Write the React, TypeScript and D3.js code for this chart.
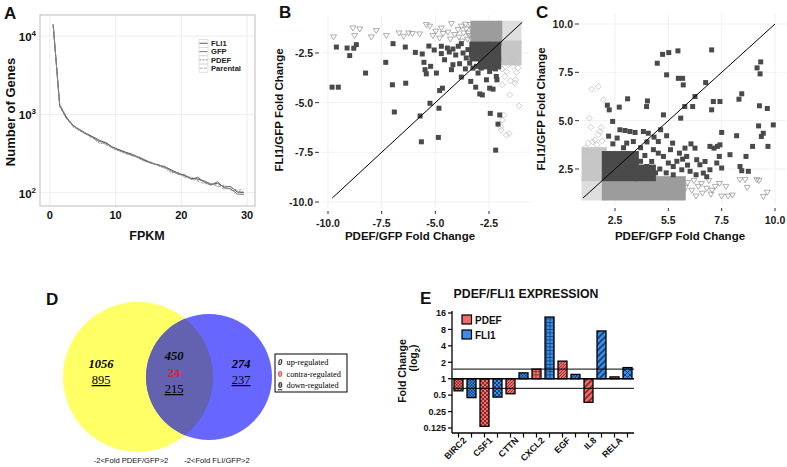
import React from "react";
import * as d3 from "d3";

const SANS = "'Liberation Sans', Arial, Helvetica, sans-serif";
const SERIF = "'Liberation Serif', 'Times New Roman', serif";

// ---------------- Panel A data ----------------
const fpkmBins = [0.5, 1.5, 2.5, 3.5, 4.5, 5.5, 6.5, 7.5, 8.5, 9.5, 10.5, 11.5, 12.5, 13.5, 14.5, 15.5, 16.5, 17.5, 18.5, 19.5, 20.5, 21.5, 22.5, 23.5, 24.5, 25.5, 26.5, 27.5, 28.5, 29.5];
const fli1Genes = [14000, 1300, 920, 730, 640, 575, 520, 470, 430, 385, 355, 330, 310, 285, 260, 240, 225, 215, 195, 178, 165, 152, 150, 140, 128, 132, 118, 120, 102, 100];
const gfpGenes = [14200, 1280, 900, 720, 630, 560, 510, 450, 440, 380, 350, 325, 300, 280, 255, 235, 228, 210, 190, 172, 170, 148, 158, 135, 125, 138, 115, 112, 96, 95];
const pdefGenes = [13900, 1350, 950, 700, 620, 560, 500, 430, 420, 370, 340, 320, 305, 275, 250, 245, 220, 205, 180, 182, 160, 158, 145, 142, 130, 120, 125, 108, 105, 102];
const parentalGenes = [14100, 1250, 880, 710, 650, 570, 490, 460, 410, 375, 345, 315, 295, 290, 265, 240, 222, 218, 185, 175, 158, 150, 140, 130, 132, 125, 110, 115, 108, 110];
const seriesNamesA = ["FLI1", "GFP", "PDEF", "Parental"];
const xTicksA = [0, 10, 20, 30];
const yTicksA = [100, 1000, 10000];
const yTickExpA = ["2", "3", "4"];

// ---------------- Panel B data ----------------
const xTicksB = [-10, -7.5, -5, -2.5];
const yTicksB = [-2.5, -5, -7.5, -10];
const bBoth = [
  [-9.81, -4.22], [-9.52, -4.22], [-9.61, -2.2], [-9.11, -2.25], [-8.8, -2.26], [-8.68, -2.08], [-8.99, -2.63], [-8.25, -3.51],
  [-7.31, -2.97], [-6.97, -2.03], [-7.0, -4.1], [-6.91, -5.47], [-6.4, -2.2], [-6.38, -4.02], [-5.93, -2.47], [-5.61, -2.55],
  [-5.53, -2.97], [-5.48, -3.34], [-5.22, -3.17], [-5.42, -3.55], [-4.95, -3.51], [-4.8, -4.39], [-4.67, -4.27], [-5.25, -5.03],
  [-5.71, -5.67], [-4.83, -5.28], [-5.65, -6.97], [-4.86, -6.75], [-4.72, -2.53], [-4.44, -2.25], [-4.18, -2.3], [-3.93, -2.16],
  [-3.79, -2.03], [-4.72, -2.16], [-4.57, -2.84], [-4.18, -3.09], [-3.79, -3.71], [-3.56, -2.75], [-3.35, -3.93], [-3.12, -4.22],
  [-2.93, -4.56], [-2.81, -4.61], [-2.47, -4.27], [-2.31, -4.32], [-2.62, -3.85], [-3.01, -3.51], [-2.47, -3.43], [-2.16, -3.68],
  [-2.13, -3.85], [-2.44, -5.54], [-2.0, -5.62], [-2.08, -6.08], [-2.19, -7.39], [-3.09, -3.17], [-3.25, -3.26], [-2.86, -3.26],
  [-3.4, -3.01], [-3.87, -3.04], [-4.25, -3.34], [-3.71, -2.5], [-3.48, -2.33], [-2.7, -2.67], [-2.47, -2.84], [-2.24, -3.01],
  [-3.09, -2.75], [-3.32, -2.58], [-2.08, -2.58], [-2.31, -3.26], [-4.05, -2.6], [-3.6, -3.3], [-2.6, -3.1], [-2.2, -3.3],
  [-4.35, -2.45], [-5.05, -2.35], [-5.3, -2.15]
];
const bPdefOnly = [
  [-9.74, -1.69], [-8.84, -1.24], [-8.52, -1.29], [-8.76, -1.62], [-7.98, -1.69], [-7.75, -1.37], [-7.28, -1.62], [-6.69, -1.49],
  [-6.48, -1.66], [-6.24, -1.49], [-6.07, -1.52], [-5.73, -1.54], [-5.42, -1.07], [-5.26, -1.15], [-5.11, -1.62], [-4.98, -1.4],
  [-4.72, -1.24], [-4.64, -1.52], [-4.41, -1.45], [-4.25, -1.02], [-4.1, -1.57], [-3.94, -1.32], [-3.79, -1.15], [-3.68, -1.49],
  [-3.56, -1.29], [-3.43, -1.62], [-3.37, -1.07], [-3.5, -1.8], [-3.3, -1.3], [-3.6, -1.05], [-3.45, -1.5], [-3.9, -1.7],
  [-4.3, -1.8], [-4.8, -1.75], [-3.75, -1.9]
];
const bFli1Only = [
  [-1.69, -3.43], [-1.38, -3.17], [-1.23, -3.48], [-1.77, -3.68], [-1.26, -3.85], [-1.88, -4.1], [-1.54, -4.61], [-1.1, -5.16],
  [-1.82, -5.62], [-1.88, -5.87], [-1.69, -6.63], [-1.57, -6.55], [-1.95, -6.21], [-1.93, -6.38], [-1.38, -2.84], [-1.61, -3.09],
  [-1.15, -3.25], [-1.5, -3.9], [-1.9, -3.3], [-1.3, -4.0]
];
// dense regions [x0, x1, y0, y1]
const bDenseNeither = [[-2.0, -1.1, -2.0, -1.0]];
const bDensePdef = [[-3.25, -2.0, -2.0, -1.0]];
const bDenseFli1 = [[-2.0, -1.1, -3.0, -2.0]];
const bDenseBoth = [[-3.3, -2.05, -2.8, -2.05], [-2.9, -2.05, -3.2, -2.8]];
const bDiagonal = [-9.8, -0.95];

// ---------------- Panel C data ----------------
const xTicksC = [2.5, 5, 7.5, 10];
const xTickLabelsC = ["2.5", "5.5", "7.5", "10.0"];
const yTicksC = [2.5, 5, 7.5, 10];
const cBoth = [
  [4.48, 7.97], [4.73, 8.43], [5.02, 8.52], [5.45, 8.61], [7.03, 8.66], [4.92, 7.37], [5.47, 7.19], [5.67, 7.19], [5.7, 6.85],
  [6.75, 6.97], [6.25, 6.25], [6.14, 5.73], [5.77, 5.73], [5.58, 5.13], [4.77, 5.3], [3.98, 5.73], [4.02, 6.02], [3.09, 6.13],
  [2.7, 5.7], [2.14, 5.8], [2.23, 5.56], [2.39, 4.96], [7.11, 5.99], [7.42, 5.99], [7.03, 5.56], [7.5, 4.39], [7.89, 3.24],
  [8.2, 4.22], [8.31, 6.11], [8.44, 6.39], [9.16, 7.73], [9.33, 8.04], [9.3, 7.42], [9.27, 5.77], [9.64, 5.63], [9.92, 4.78],
  [9.23, 4.73], [9.36, 4.18], [9.45, 4.35], [9.67, 3.67], [8.95, 3.67], [8.64, 3.15], [8.36, 2.63], [8.44, 2.41], [8.75, 2.38],
  [3.83, 4.44], [4.06, 4.35], [4.33, 4.15], [4.53, 3.92], [4.92, 4.22], [4.64, 4.53], [2.73, 4.53], [2.97, 4.49], [3.2, 4.44],
  [3.44, 4.39], [3.05, 3.84], [3.36, 3.92], [5.2, 3.84], [5.52, 3.32], [5.78, 3.58], [5.86, 3.15], [6.06, 3.8], [6.25, 3.58],
  [6.33, 2.98], [6.48, 2.72], [6.72, 2.89], [6.95, 3.67], [7.14, 3.58], [7.3, 3.67], [7.42, 3.75], [7.39, 3.15], [7.27, 2.81],
  [7.5, 2.55], [6.95, 2.46], [6.64, 2.29], [6.02, 2.38], [5.63, 2.46], [5.23, 2.63], [5.0, 2.81], [4.77, 3.15], [4.53, 3.32],
  [4.22, 2.89], [3.98, 2.63], [5.23, 2.2], [5.67, 3.01], [3.7, 3.6], [4.0, 3.9], [4.3, 3.5], [3.9, 3.2], [4.6, 2.5], [4.9, 2.3],
  [5.4, 2.9], [5.1, 3.5], [3.6, 2.2], [4.1, 2.1], [6.3, 2.2], [2.4, 3.8], [2.6, 4.1], [2.2, 4.2], [3.7, 2.9], [2.9, 3.6],
  [4.4, 2.3], [5.9, 2.7], [6.8, 2.1]
];
const cPdefOnly = [
  [5.5, 1.7], [5.7, 1.3], [5.9, 1.8], [6.1, 1.4], [6.3, 1.1], [6.4, 1.6], [6.6, 1.25], [6.8, 1.5], [6.9, 1.9], [7.0, 1.2],
  [7.2, 1.6], [7.4, 1.75], [7.5, 1.1], [7.7, 1.6], [7.8, 1.1], [8.0, 1.15], [8.36, 1.95], [8.6, 1.95], [8.7, 1.55], [9.15, 1.95],
  [9.25, 1.9], [9.45, 1.08], [9.64, 1.3], [6.2, 1.9], [5.8, 1.55], [6.55, 1.75], [7.05, 1.4]
];
const cFli1Only = [
  [1.41, 6.63], [1.72, 6.76], [1.95, 6.08], [1.3, 5.13], [1.36, 4.66], [1.8, 4.44], [1.72, 4.27], [1.56, 4.01], [1.25, 3.84],
  [1.17, 3.32], [1.45, 3.9], [1.65, 3.75], [1.9, 3.95], [1.1, 3.6], [1.85, 4.65]
];
const cDenseNeither = [[1.05, 2.0, 1.0, 2.0]];
const cDensePdef = [[2.0, 5.7, 1.0, 2.0]];
const cDenseFli1 = [[1.05, 2.0, 2.0, 3.5]];
const cDenseBoth = [[2.0, 3.5, 2.0, 3.3], [3.5, 4.3, 2.0, 2.6]];
const cDiagonal = [1.0, 10.0];

// ---------------- Panel D data ----------------
const vennSetLabels = ["-2<Fold PDEF/GFP>2", "-2<Fold FLI/GFP>2"];
const vennUp = [1056, 450, 274];
const vennContra = [null, 24, null];
const vennDown = [895, 215, 237];
const vennLegend = ["up-regulated", "contra-regulated", "down-regulated"];

// ---------------- Panel E data ----------------
const genesE = ["BIRC2", "CSF1", "CTTN", "CXCL2", "EGF", "IL8", "RELA"];
const pdefFold = [0.6, 0.134, 0.53, 1.5, 2.1, 0.37, 1.08];
const fli1Fold = [0.45, 0.46, 1.28, 13.5, 1.2, 7.5, 1.6];
const yTicksE = [0.125, 0.25, 0.5, 1, 2, 4, 8, 16];
const thresholdsE = [1.5, 1 / 1.5];
const pdefPatterns = ["check", "bigcheck", "diag", "grid", "diag", "wide", "diag"];
const fli1Patterns = ["check", "bigcheck", "check", "grid", "check", "wide", "cross"];

const RED = "#f06a6a";
const RED_D = "#8a2a2a";
const BLUE = "#3b8de6";
const BLUE_D = "#123f7c";

function PanelA() {
  const x = d3.scaleLinear().domain([-1.5, 31.2]).range([40, 255]);
  const y = d3.scaleLog().domain([Math.pow(10, 1.83), Math.pow(10, 4.27)]).range([206, 15]);
  const series = [fli1Genes, gfpGenes, pdefGenes, parentalGenes];
  const styles = [
    { stroke: "#333", dash: "" },
    { stroke: "#555", dash: "" },
    { stroke: "#777", dash: "2,1" },
    { stroke: "#9a9a9a", dash: "3,1.5" }
  ];
  const line = d3.line<number>().x((_, i) => x(fpkmBins[i])).y((d) => y(d));
  return (
    <g>
      {xTicksA.map((t) => (
        <line key={"gx" + t} x1={x(t)} x2={x(t)} y1={15} y2={206} stroke="#e8e8e8" strokeWidth={0.8} />
      ))}
      {yTicksA.map((t) => (
        <line key={"gy" + t} x1={40} x2={255} y1={y(t)} y2={y(t)} stroke="#e8e8e8" strokeWidth={0.8} />
      ))}
      <rect x={40} y={15} width={215} height={191} fill="none" stroke="#bdbdbd" strokeWidth={1} />
      {series.map((s, i) => (
        <path key={"s" + i} d={line(s) || ""} fill="none" stroke={styles[i].stroke} strokeWidth={0.8} strokeDasharray={styles[i].dash} />
      ))}
      {seriesNamesA.map((n, i) => {
        const cy = 43.3 + i * 8.3;
        return (
          <g key={"lg" + n}>
            <rect x={199} y={cy - 4} width={9} height={8} fill="white" stroke="#cfcfcf" strokeWidth={0.6} />
            <line x1={199.5} x2={207.5} y1={cy} y2={cy} stroke={styles[i].stroke} strokeWidth={0.8} strokeDasharray={styles[i].dash} />
            <text x={211} y={cy + 2.8} fontFamily={SANS} fontSize={7.6} fontWeight="bold" fill="#222">{n}</text>
          </g>
        );
      })}
      {xTicksA.map((t) => (
        <text key={"xl" + t} x={x(t)} y={218.5} textAnchor="middle" fontFamily={SANS} fontSize={11} fontWeight="bold" fill="#111">{t}</text>
      ))}
      {yTicksA.map((t, i) => (
        <text key={"yl" + t} x={36} y={y(t) + 5} textAnchor="end" fontFamily={SANS} fontSize={11.5} fontWeight="bold" fill="#111">
          10<tspan dy={-5} fontSize={8}>{yTickExpA[i]}</tspan>
        </text>
      ))}
      <text x={147} y={240} textAnchor="middle" fontFamily={SANS} fontSize={12.5} fontWeight="bold" fill="#111">FPKM</text>
      <text transform="translate(15,112) rotate(-90)" textAnchor="middle" fontFamily={SANS} fontSize={13} fontWeight="bold" fill="#111">Number of Genes</text>
      <text x={4} y={19} fontFamily={SANS} fontSize={17} fontWeight="bold" fill="#111">A</text>
    </g>
  );
}

type ScatterCfg = {
  x: d3.ScaleLinear<number, number>;
  y: d3.ScaleLinear<number, number>;
  left: number; right: number; top: number; bottom: number;
  xTicks: number[]; xLabels: string[]; yTicks: number[]; yLabels: string[];
  both: number[][]; pdef: number[][]; fli1: number[][];
  dNeither: number[][]; dPdef: number[][]; dFli1: number[][]; dBoth: number[][];
  diag: number[];
  letter: string; letterX: number; yTitleX: number; yTitleY: number; xTitleX: number;
};

function Scatter({ c }: { c: ScatterCfg }) {
  const { x, y } = c;
  const block = (b: number[], fill: string, k: string) => {
    const x0 = Math.min(x(b[0]), x(b[1])) - 2.5;
    const x1 = Math.max(x(b[0]), x(b[1])) + 2.5;
    const y0 = Math.min(y(b[2]), y(b[3])) - 2.5;
    const y1 = Math.max(y(b[2]), y(b[3])) + 2.5;
    return <rect key={k} x={x0} y={y0} width={x1 - x0} height={y1 - y0} fill={fill} />;
  };
  return (
    <g>
      {c.xTicks.map((t) => (
        <line key={"gx" + t} x1={x(t)} x2={x(t)} y1={c.top} y2={c.bottom} stroke="#ededed" strokeWidth={0.8} />
      ))}
      {c.yTicks.map((t) => (
        <line key={"gy" + t} x1={c.left} x2={c.right} y1={y(t)} y2={y(t)} stroke="#ededed" strokeWidth={0.8} />
      ))}
      {c.dNeither.map((b, i) => block(b, "#dedede", "dn" + i))}
      {c.dFli1.map((b, i) => block(b, "#c6c6c6", "df" + i))}
      {c.dPdef.map((b, i) => block(b, "#9c9c9c", "dp" + i))}
      {c.pdef.map((p, i) => {
        const px = x(p[0]), py = y(p[1]);
        return <path key={"t" + i} d={`M${px - 3},${py - 2} L${px + 3},${py - 2} L${px},${py + 3} Z`} fill="none" stroke="#9a9a9a" strokeWidth={0.8} />;
      })}
      {c.fli1.map((p, i) => {
        const px = x(p[0]), py = y(p[1]);
        return <path key={"d" + i} d={`M${px},${py - 3} L${px + 3},${py} L${px},${py + 3} L${px - 3},${py} Z`} fill="none" stroke="#c2c2c2" strokeWidth={0.8} />;
      })}
      {c.dBoth.map((b, i) => block(b, "#4a4a4a", "db" + i))}
      {c.both.map((p, i) => (
        <rect key={"q" + i} x={x(p[0]) - 2.5} y={y(p[1]) - 2.5} width={5} height={5} fill="#4a4a4a" />
      ))}
      <line x1={x(c.diag[0])} y1={y(c.diag[0])} x2={x(c.diag[1])} y2={y(c.diag[1])} stroke="#000" strokeWidth={1} />
      {c.xTicks.map((t, i) => (
        <g key={"xt" + t}>
          <line x1={x(t)} x2={x(t)} y1={c.bottom + 3} y2={c.bottom + 6} stroke="#333" strokeWidth={1} />
          <text x={x(t)} y={c.bottom + 18.5} textAnchor="middle" fontFamily={SANS} fontSize={10.5} fontWeight="bold" fill="#222">{c.xLabels[i]}</text>
        </g>
      ))}
      {c.yTicks.map((t, i) => (
        <g key={"yt" + t}>
          <line x1={c.left - 7} x2={c.left - 3} y1={y(t)} y2={y(t)} stroke="#333" strokeWidth={1} />
          <text x={c.left - 9} y={y(t) + 4} textAnchor="end" fontFamily={SANS} fontSize={10.5} fontWeight="bold" fill="#222">{c.yLabels[i]}</text>
        </g>
      ))}
      <text x={c.xTitleX} y={240} textAnchor="middle" fontFamily={SANS} fontSize={11.5} fontWeight="bold" fill="#111">PDEF/GFP Fold Change</text>
      <text transform={`translate(${c.yTitleX},${c.yTitleY}) rotate(-90)`} textAnchor="middle" fontFamily={SANS} fontSize={11.5} fontWeight="bold" fill="#111">FLI1/GFP Fold Change</text>
      <text x={c.letterX} y={18} fontFamily={SANS} fontSize={17} fontWeight="bold" fill="#111">{c.letter}</text>
    </g>
  );
}

function PanelD() {
  const cy = 377;
  const yc = { cx: 138, r: 75 };
  const bc = { cx: 209, r: 63 };
  const textX = [101, 174, 241];
  return (
    <g>
      <defs>
        <clipPath id="blueClip">
          <circle cx={bc.cx} cy={cy} r={bc.r} />
        </clipPath>
      </defs>
      <circle cx={yc.cx} cy={cy} r={yc.r} fill="#ffff66" />
      <circle cx={bc.cx} cy={cy} r={bc.r} fill="#6767ff" />
      <circle cx={yc.cx} cy={cy} r={yc.r} fill="#6262b0" clipPath="url(#blueClip)" />
      {vennUp.map((v, i) => (
        <text key={"u" + i} x={textX[i]} y={i === 1 ? 360 : 368} textAnchor="middle" fontFamily={SERIF} fontSize={12.5} fontWeight="bold" fontStyle="italic" fill="#000">{v}</text>
      ))}
      {vennContra.map((v, i) => v === null ? null : (
        <text key={"c" + i} x={textX[i]} y={377} textAnchor="middle" fontFamily={SERIF} fontSize={12.5} fontWeight="bold" fill="#e0202a">{v}</text>
      ))}
      {vennDown.map((v, i) => (
        <text key={"d" + i} x={textX[i]} y={i === 1 ? 393 : 384} textAnchor="middle" fontFamily={SERIF} fontSize={12.5} fill="#000" style={{ textDecoration: "underline" }}>{v}</text>
      ))}
      <rect x={275} y={354} width={72} height={38} fill="white" stroke="#000" strokeWidth={1} />
      {vennLegend.map((t, i) => {
        const by = 365 + i * 11.7;
        return (
          <g key={"vl" + i}>
            <text x={278} y={by} fontFamily={SERIF} fontSize={8.5} fontWeight="bold"
              fontStyle={i === 0 ? "italic" : "normal"} fill={i === 1 ? "#e0202a" : "#000"}
              style={i === 2 ? { textDecoration: "underline" } : undefined}>0</text>
            <text x={286.5} y={by} fontFamily={SERIF} fontSize={8.3} fill="#000">{t}</text>
          </g>
        );
      })}
      <text x={131} y={463} textAnchor="middle" fontFamily={SANS} fontSize={7.6} fill="#111">{vennSetLabels[0]}</text>
      <text x={217} y={463} textAnchor="middle" fontFamily={SANS} fontSize={7.6} fill="#111">{vennSetLabels[1]}</text>
      <text x={46} y={305} fontFamily={SANS} fontSize={17} fontWeight="bold" fill="#111">D</text>
    </g>
  );
}

function Patterns({ id, base, dark }: { id: string; base: string; dark: string }) {
  return (
    <>
      <pattern id={id + "-check"} width={3} height={3} patternUnits="userSpaceOnUse">
        <rect width={3} height={3} fill={base} />
        <rect width={1.5} height={1.5} fill={dark} />
        <rect x={1.5} y={1.5} width={1.5} height={1.5} fill={dark} />
      </pattern>
      <pattern id={id + "-bigcheck"} width={4} height={4} patternUnits="userSpaceOnUse">
        <rect width={4} height={4} fill={base} />
        <rect width={2} height={2} fill={dark} />
        <rect x={2} y={2} width={2} height={2} fill={dark} />
      </pattern>
      <pattern id={id + "-grid"} width={3.5} height={3.5} patternUnits="userSpaceOnUse">
        <rect width={3.5} height={3.5} fill={base} />
        <line x1={0} y1={0.4} x2={3.5} y2={0.4} stroke={dark} strokeWidth={0.8} />
        <line x1={0.4} y1={0} x2={0.4} y2={3.5} stroke={dark} strokeWidth={0.8} />
      </pattern>
      <pattern id={id + "-diag"} width={3} height={3} patternUnits="userSpaceOnUse">
        <rect width={3} height={3} fill={base} />
        <path d="M-1,1 L1,-1 M0,3 L3,0 M2,4 L4,2" stroke={dark} strokeWidth={0.9} />
      </pattern>
      <pattern id={id + "-wide"} width={6} height={6} patternUnits="userSpaceOnUse">
        <rect width={6} height={6} fill={base} />
        <path d="M-1.5,1.5 L1.5,-1.5 M0,6 L6,0 M4.5,7.5 L7.5,4.5" stroke={dark} strokeWidth={1.6} />
      </pattern>
      <pattern id={id + "-cross"} width={5} height={5} patternUnits="userSpaceOnUse">
        <rect width={5} height={5} fill={base} />
        <path d="M0,0 L5,5 M5,0 L0,5" stroke={dark} strokeWidth={1} />
      </pattern>
    </>
  );
}

function PanelE() {
  const x = d3.scaleBand().domain(genesE).range([452, 634]).paddingInner(0);
  const y = d3.scaleLog().base(2).domain([0.125, 16]).range([428, 313]);
  const y1 = y(1);
  const offsets = [2, 15];
  const bar = (g: string, v: number, off: number, fill: string, k: string) => {
    const bx = (x(g) as number) + off;
    const yv = y(v);
    return <rect key={k} x={bx} y={Math.min(yv, y1)} width={9} height={Math.abs(yv - y1)} fill={fill} stroke="#000" strokeWidth={1.3} />;
  };
  return (
    <g>
      <defs>
        <Patterns id="pr" base={RED} dark={RED_D} />
        <Patterns id="pb" base={BLUE} dark={BLUE_D} />
      </defs>
      <text x={526} y={298} textAnchor="middle" fontFamily={SANS} fontSize={12.3} fontWeight="bold" fill="#111">PDEF/FLI1 EXPRESSION</text>
      {genesE.map((g, i) => bar(g, pdefFold[i], offsets[0], `url(#pr-${pdefPatterns[i]})`, "p" + g))}
      {genesE.map((g, i) => bar(g, fli1Fold[i], offsets[1], `url(#pb-${fli1Patterns[i]})`, "f" + g))}
      {thresholdsE.map((t, i) => (
        <line key={"th" + i} x1={453} x2={634} y1={y(t)} y2={y(t)} stroke="#000" strokeWidth={1} />
      ))}
      <line x1={452} x2={634} y1={y1} y2={y1} stroke="#000" strokeWidth={1.5} />
      <line x1={452} x2={452} y1={311} y2={433} stroke="#000" strokeWidth={1.3} />
      <line x1={452} x2={634} y1={433} y2={433} stroke="#000" strokeWidth={1.3} />
      {yTicksE.map((t) => (
        <g key={"ey" + t}>
          <line x1={448} x2={452} y1={y(t)} y2={y(t)} stroke="#000" strokeWidth={1.2} />
          <text x={446} y={y(t) + 3.3} textAnchor="end" fontFamily={SANS} fontSize={9} fontWeight="bold" fill="#111">{t}</text>
        </g>
      ))}
      {genesE.map((g) => {
        const bx = x(g) as number;
        const gc = bx + 13;
        return (
          <g key={"ex" + g}>
            {offsets.map((o) => (
              <line key={"tk" + o} x1={bx + o + 4.5} x2={bx + o + 4.5} y1={433} y2={437.5} stroke="#000" strokeWidth={1.2} />
            ))}
            <text transform={`translate(${gc + 2},${441}) rotate(-45)`} textAnchor="end" fontFamily={SANS} fontSize={9} fontWeight="bold" fill="#111">{g}</text>
          </g>
        );
      })}
      <rect x={462} y={315} width={9.5} height={9} fill={RED} stroke="#000" strokeWidth={1.2} />
      <text x={475} y={323.5} fontFamily={SANS} fontSize={10} fontWeight="bold" fill="#111">PDEF</text>
      <rect x={462} y={330} width={9.5} height={9} fill={BLUE} stroke="#000" strokeWidth={1.2} />
      <text x={475} y={338.5} fontFamily={SANS} fontSize={10} fontWeight="bold" fill="#111">FLI1</text>
      <text transform="translate(406,371) rotate(-90)" textAnchor="middle" fontFamily={SANS} fontSize={10.5} fontWeight="bold" fill="#111">Fold Change</text>
      <text transform="translate(417,358) rotate(-90)" textAnchor="middle" fontFamily={SANS} fontSize={10.5} fontWeight="bold" fill="#111">
        (log<tspan dy={2.5} fontSize={7.5}>2</tspan><tspan dy={-2.5}>)</tspan>
      </text>
      <text x={420} y={304} fontFamily={SANS} fontSize={17} fontWeight="bold" fill="#111">E</text>
    </g>
  );
}

export default function App() {
  const xB = d3.scaleLinear().domain([-10, -2.5]).range([328, 489]);
  const yB = d3.scaleLinear().domain([-2.5, -10]).range([53, 202]);
  const xC = d3.scaleLinear().domain([2.5, 10]).range([615, 775]);
  const yC = d3.scaleLinear().domain([10, 2.5]).range([24, 169]);
  const cfgB: ScatterCfg = {
    x: xB, y: yB, left: 322, right: 530, top: 15, bottom: 208,
    xTicks: xTicksB, xLabels: xTicksB.map((t) => t.toFixed(1)),
    yTicks: yTicksB, yLabels: yTicksB.map((t) => t.toFixed(1)),
    both: bBoth, pdef: bPdefOnly, fli1: bFli1Only,
    dNeither: bDenseNeither, dPdef: bDensePdef, dFli1: bDenseFli1, dBoth: bDenseBoth,
    diag: bDiagonal, letter: "B", letterX: 279, yTitleX: 283, yTitleY: 110, xTitleX: 410
  };
  const cfgC: ScatterCfg = {
    x: xC, y: yC, left: 582, right: 786, top: 14, bottom: 205,
    xTicks: xTicksC, xLabels: xTickLabelsC,
    yTicks: yTicksC, yLabels: yTicksC.map((t) => t.toFixed(1)),
    both: cBoth, pdef: cPdefOnly, fli1: cFli1Only,
    dNeither: cDenseNeither, dPdef: cDensePdef, dFli1: cDenseFli1, dBoth: cDenseBoth,
    diag: cDiagonal, letter: "C", letterX: 536, yTitleX: 545, yTitleY: 109, xTitleX: 680
  };
  return (
    <svg width={787} height={467} viewBox="0 0 787 467" style={{ position: "absolute", left: 0, top: 0, display: "block", background: "#fff" }}>
      <rect width={787} height={467} fill="#fff" />
      <PanelA />
      <Scatter c={cfgB} />
      <Scatter c={cfgC} />
      <PanelD />
      <PanelE />
    </svg>
  );
}
